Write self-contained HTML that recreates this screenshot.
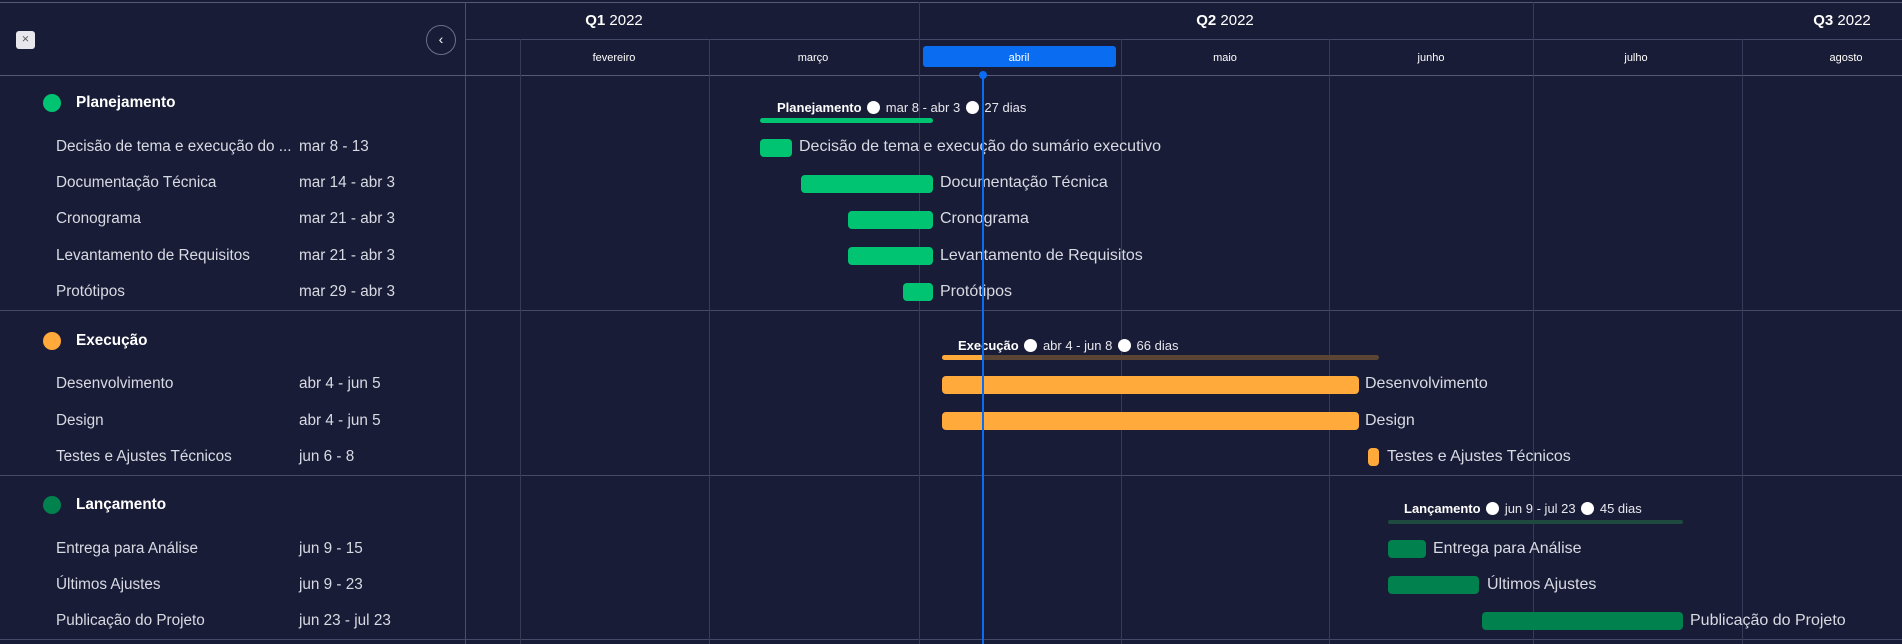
<!DOCTYPE html>
<html><head><meta charset="utf-8"><style>
*{margin:0;padding:0;box-sizing:border-box}
body{width:1902px;height:644px;background:#191c36;position:relative;overflow:hidden;font-family:"Liberation Sans",sans-serif;color:#e6e7ee}
.a{position:absolute}
.h{position:absolute;height:1px;background:#454a68}
.v{position:absolute;width:1px;background:#363b5a}
.t{position:absolute;white-space:nowrap;line-height:20px;font-size:15.3px;color:#d8dae3}
.g{font-size:16px}
.c{transform:translateX(-50%)}
.bar{position:absolute;height:18px;border-radius:4px}
.dot{display:inline-block;width:13px;height:13px;border-radius:50%;background:#fff;vertical-align:-2px;margin:0 2px}
.s{position:absolute;white-space:nowrap;font-size:13px;line-height:16px;color:#e6e7ee}
.s b{color:#fff}
</style></head><body>
<div class="h" style="left:0;top:2px;width:1902px;background:#555a78"></div>
<div class="h" style="left:465px;top:39px;width:1437px"></div>
<div class="h" style="left:0;top:75px;width:1902px;background:#555a78"></div>
<div class="h" style="left:0;top:310px;width:1902px"></div>
<div class="h" style="left:0;top:475px;width:1902px"></div>
<div class="h" style="left:0;top:639px;width:1902px"></div>
<div class="v" style="left:465px;top:2px;height:642px;background:#4a4f6d"></div>
<div class="v" style="left:919px;top:2px;height:642px"></div>
<div class="v" style="left:1533px;top:2px;height:642px"></div>
<div class="v" style="left:520px;top:39px;height:605px"></div>
<div class="v" style="left:709px;top:39px;height:605px"></div>
<div class="v" style="left:1121px;top:39px;height:605px"></div>
<div class="v" style="left:1329px;top:39px;height:605px"></div>
<div class="v" style="left:1742px;top:39px;height:605px"></div>

<div class="a" style="left:16px;top:31px;width:19px;height:18px;background:#e8e8ec;border-radius:3px;color:#555;font-size:10px;line-height:18px;text-align:center">⨯</div>
<div class="a" style="left:426px;top:25px;width:30px;height:30px;border:1px solid #6a6f8a;border-radius:50%;color:#fff;font-size:14px;line-height:27px;text-align:center">‹</div>

<div class="t c" style="left:614px;top:11px;font-size:15px;color:#fff"><b>Q1</b> 2022</div>
<div class="t c" style="left:1225px;top:11px;font-size:15px;color:#fff"><b>Q2</b> 2022</div>
<div class="t c" style="left:1842px;top:11px;font-size:15px;color:#fff"><b>Q3</b> 2022</div>
<div class="a" style="left:923px;top:46px;width:193px;height:21px;background:#0a6cf0;border-radius:3px"></div>
<div class="t c" style="left:614px;top:48px;font-size:11px;color:#fff">fevereiro</div>
<div class="t c" style="left:813px;top:48px;font-size:11px;color:#fff">março</div>
<div class="t c" style="left:1019px;top:48px;font-size:11px;color:#fff">abril</div>
<div class="t c" style="left:1225px;top:48px;font-size:11px;color:#fff">maio</div>
<div class="t c" style="left:1431px;top:48px;font-size:11px;color:#fff">junho</div>
<div class="t c" style="left:1636px;top:48px;font-size:11px;color:#fff">julho</div>
<div class="t c" style="left:1846px;top:48px;font-size:11px;color:#fff">agosto</div>

<!-- left list -->
<div class="a" style="left:43px;top:94px;width:18px;height:18px;border-radius:50%;background:#00c472"></div>
<div class="t" style="left:76px;top:93px;font-weight:bold;color:#fff">Planejamento</div>
<div class="t" style="left:56px;top:137px">Decisão de tema e execução do ...</div><div class="t" style="left:299px;top:137px">mar 8 - 13</div>
<div class="t" style="left:56px;top:173px">Documentação Técnica</div><div class="t" style="left:299px;top:173px">mar 14 - abr 3</div>
<div class="t" style="left:56px;top:209px">Cronograma</div><div class="t" style="left:299px;top:209px">mar 21 - abr 3</div>
<div class="t" style="left:56px;top:246px">Levantamento de Requisitos</div><div class="t" style="left:299px;top:246px">mar 21 - abr 3</div>
<div class="t" style="left:56px;top:282px">Protótipos</div><div class="t" style="left:299px;top:282px">mar 29 - abr 3</div>

<div class="a" style="left:43px;top:332px;width:18px;height:18px;border-radius:50%;background:#ffaa3b"></div>
<div class="t" style="left:76px;top:331px;font-weight:bold;color:#fff">Execução</div>
<div class="t" style="left:56px;top:374px">Desenvolvimento</div><div class="t" style="left:299px;top:374px">abr 4 - jun 5</div>
<div class="t" style="left:56px;top:411px">Design</div><div class="t" style="left:299px;top:411px">abr 4 - jun 5</div>
<div class="t" style="left:56px;top:447px">Testes e Ajustes Técnicos</div><div class="t" style="left:299px;top:447px">jun 6 - 8</div>

<div class="a" style="left:43px;top:496px;width:18px;height:18px;border-radius:50%;background:#00814d"></div>
<div class="t" style="left:76px;top:495px;font-weight:bold;color:#fff">Lançamento</div>
<div class="t" style="left:56px;top:539px">Entrega para Análise</div><div class="t" style="left:299px;top:539px">jun 9 - 15</div>
<div class="t" style="left:56px;top:575px">Últimos Ajustes</div><div class="t" style="left:299px;top:575px">jun 9 - 23</div>
<div class="t" style="left:56px;top:611px">Publicação do Projeto</div><div class="t" style="left:299px;top:611px">jun 23 - jul 23</div>

<!-- gantt planejamento -->
<div class="s" style="left:777px;top:100px"><b>Planejamento</b> <span class="dot"></span> mar 8 - abr 3 <span class="dot"></span> 27 dias</div>
<div class="a" style="left:760px;top:118px;width:173px;height:5px;border-radius:3px;background:#00c472"></div>
<div class="bar" style="left:760px;top:139px;width:32px;background:#00c472"></div><div class="t g" style="left:799px;top:137px">Decisão de tema e execução do sumário executivo</div>
<div class="bar" style="left:801px;top:175px;width:132px;background:#00c472"></div><div class="t g" style="left:940px;top:173px">Documentação Técnica</div>
<div class="bar" style="left:848px;top:211px;width:85px;background:#00c472"></div><div class="t g" style="left:940px;top:209px">Cronograma</div>
<div class="bar" style="left:848px;top:247px;width:85px;background:#00c472"></div><div class="t g" style="left:940px;top:246px">Levantamento de Requisitos</div>
<div class="bar" style="left:903px;top:283px;width:30px;background:#00c472"></div><div class="t g" style="left:940px;top:282px">Protótipos</div>

<!-- execucao -->
<div class="s" style="left:958px;top:338px"><b>Execução</b> <span class="dot"></span> abr 4 - jun 8 <span class="dot"></span> 66 dias</div>
<div class="a" style="left:942px;top:355px;width:437px;height:5px;border-radius:3px;background:#5a4535"></div>
<div class="a" style="left:942px;top:355px;width:41px;height:5px;border-radius:3px 0 0 3px;background:#ffaa3b"></div>
<div class="bar" style="left:942px;top:376px;width:417px;background:#ffaa3b"></div><div class="t g" style="left:1365px;top:374px">Desenvolvimento</div>
<div class="bar" style="left:942px;top:412px;width:417px;background:#ffaa3b"></div><div class="t g" style="left:1365px;top:411px">Design</div>
<div class="bar" style="left:1368px;top:448px;width:11px;background:#ffaa3b"></div><div class="t g" style="left:1387px;top:447px">Testes e Ajustes Técnicos</div>

<!-- lancamento -->
<div class="s" style="left:1404px;top:501px"><b>Lançamento</b> <span class="dot"></span> jun 9 - jul 23 <span class="dot"></span> 45 dias</div>
<div class="a" style="left:1388px;top:520px;width:295px;height:4px;border-radius:2px;background:#1f4a40"></div>
<div class="bar" style="left:1388px;top:540px;width:38px;background:#00814d"></div><div class="t g" style="left:1433px;top:539px">Entrega para Análise</div>
<div class="bar" style="left:1388px;top:576px;width:91px;background:#00814d"></div><div class="t g" style="left:1487px;top:575px">Últimos Ajustes</div>
<div class="bar" style="left:1482px;top:612px;width:201px;background:#00814d"></div><div class="t g" style="left:1690px;top:611px">Publicação do Projeto</div>

<!-- today -->
<div class="a" style="left:982px;top:75px;width:2px;height:569px;background:#0a6cf0"></div>
<div class="a" style="left:979px;top:71px;width:8px;height:8px;border-radius:50%;background:#0a6cf0"></div>
</body></html>
